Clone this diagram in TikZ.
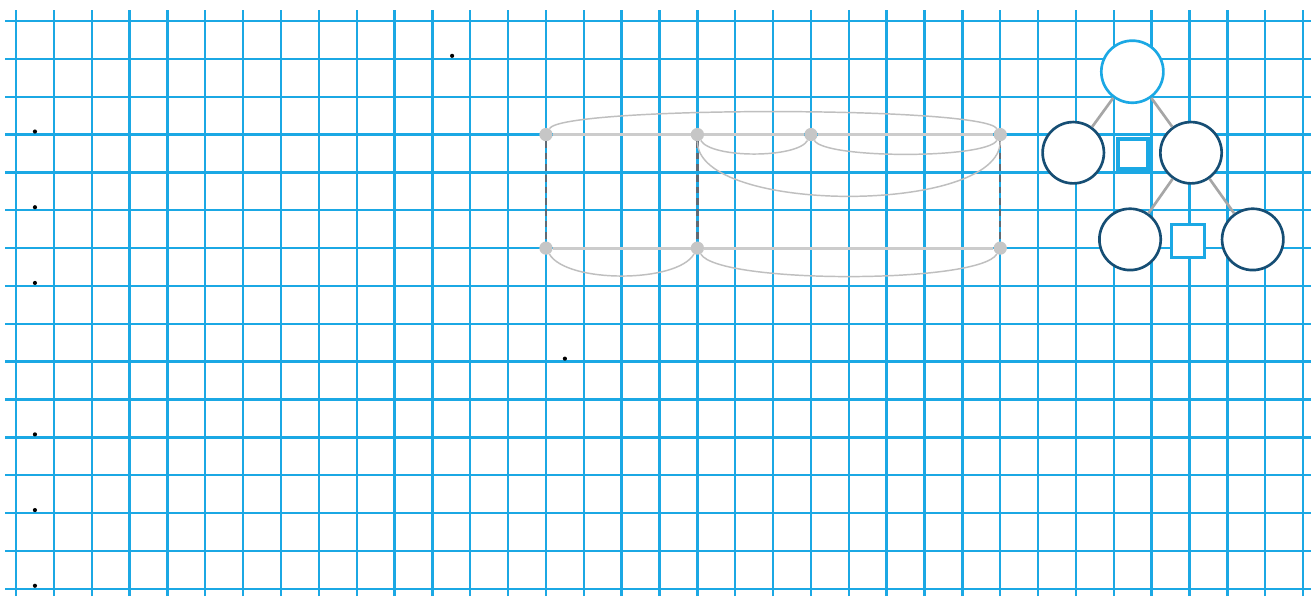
\documentclass[tikz,border=0pt]{standalone}
\usepackage{tikz}
\usetikzlibrary{arrows.meta,calc,positioning}
\definecolor{gridblue}{RGB}{27,168,228}
\definecolor{deepblue}{RGB}{22,78,116}
\definecolor{rungcol}{RGB}{95,105,115}
\tikzset{gridline/.style={draw=gridblue,line width=1.8pt},
  vtx/.style={circle,fill=gray!45,inner sep=0pt,minimum size=0.35cm},
  rail/.style={draw=gray!40,line width=2.3pt},
  arcline/.style={draw=gray!50,line width=1.1pt},
  rung/.style={draw=rungcol,line width=1.8pt,dash pattern=on 5pt off 3.5pt}}

\begin{document}
\begin{tikzpicture}[
 rootc/.style={circle,draw=gridblue,line width=2pt,fill=white,minimum size=1.64cm,inner sep=0pt},
 kidc/.style={circle,draw=deepblue,line width=2pt,fill=white,minimum size=1.62cm,inner sep=0pt},
 gap/.style={draw=gridblue,fill=white,line width=2.2pt,minimum size=0.85cm,inner sep=0pt},
 link/.style={draw=gray!70,line width=2pt}]
\useasboundingbox (-0.423,-0.19) rectangle (34.21,15.555);
\fill[white] (-0.423,-0.19) rectangle (34.21,15.555);
\foreach \x in {0,...,34} \draw[gridline] (\x,-0.19) -- (\x,15.29);
\foreach \y in {0,...,15} \draw[gridline] (-0.29,\y) -- (34.21,\y);
\foreach \p in {(0.5,12.08),(0.5,10.08),(0.5,8.08),(0.5,4.08),(0.5,2.08),(0.5,0.08),(11.52,14.08),(14.5,6.08)}
  \fill \p circle (0.055);
\node[vtx] (a1) at (14,12) {};
\node[vtx] (a2) at (18,12) {};
\node[vtx] (a3) at (21,12) {};
\node[vtx] (a4) at (26,12) {};
\node[vtx] (b1) at (14,9) {};
\node[vtx] (b2) at (18,9) {};
\node[vtx] (b4) at (26,9) {};
\draw[rung] (a1)--(b1) (a2)--(b2) (a4)--(b4);
\draw[rail] (a1)--(a2)--(a3)--(a4) (b1)--(b2)--(b4);
\draw[arcline] (a1) to[out=60,in=120,looseness=0.15] (a4);
\draw[arcline] (a2) to[out=-60,in=-120,looseness=0.5] (a3);
\draw[arcline] (a3) to[out=-60,in=-120,looseness=0.3] (a4);
\draw[arcline] (a2) to[out=-90,in=-90,looseness=0.62] (a4);
\draw[arcline] (b1) to[out=-60,in=-120,looseness=0.6] (b2);
\draw[arcline] (b2) to[out=-60,in=-120,looseness=0.3] (b4);
\node[rootc] (t) at (29.49,13.66) {};
\node[kidc] (l) at (27.93,11.52) {};
\node[kidc] (r) at (31.04,11.52) {};
\node[gap,line width=2.8pt,minimum size=0.8cm] (s1) at (29.51,11.49) {};
\node[kidc] (rl) at (29.43,9.23) {};
\node[kidc] (rr) at (32.67,9.23) {};
\node[gap,minimum size=0.87cm] (s2) at (30.96,9.18) {};
\draw[link] (t)--(l) (t)--(r) (r)--(rl) (r)--(rr);
\end{tikzpicture}
\end{document}
